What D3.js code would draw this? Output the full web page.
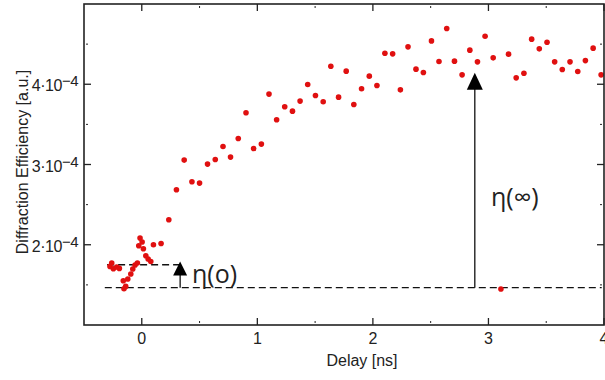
<!DOCTYPE html>
<html>
<head>
<meta charset="utf-8">
<script src="https://cdn.jsdelivr.net/npm/d3@7"></script>
<style>
  body { margin: 0; background: #fff; }
  text { font-family: "Liberation Sans", Arial, sans-serif; fill: #222; }
</style>
</head>
<body>
<svg id="chart" width="605" height="380"></svg>
<script>
// delay in ns, efficiency in units of 1e-4
const delay = [-0.275, -0.260, -0.246, -0.217, -0.194, -0.154, -0.139, -0.160, -0.121, -0.095,
  -0.078, -0.058, -0.038, -0.015, 0.003, -0.026, 0.014, 0.035, 0.055, 0.078,
  0.101, 0.167, 0.234, 0.300, 0.367, 0.434, 0.500, 0.569, 0.636, 0.703,
  0.768, 0.835, 0.902, 0.968, 1.035, 1.101, 1.167, 1.237, 1.304, 1.370,
  1.436, 1.503, 1.570, 1.636, 1.703, 1.769, 1.835, 1.902, 1.969, 2.035,
  2.104, 2.171, 2.238, 2.304, 2.373, 2.437, 2.507, 2.572, 2.639, 2.706,
  2.772, 2.839, 2.905, 2.971, 3.041, 3.108, 3.174, 3.240, 3.307, 3.374,
  3.440, 3.507, 3.573, 3.639, 3.706, 3.773, 3.839, 3.906, 3.975];
const efficiency = [1.730, 1.772, 1.701, 1.722, 1.705, 1.452, 1.481, 1.552, 1.573, 1.635,
  1.697, 1.747, 1.772, 2.083, 2.034, 1.988, 1.950, 1.863, 1.822, 1.792,
  2.000, 2.016, 2.311, 2.685, 3.055, 2.785, 2.768, 3.005, 3.062, 3.224,
  3.092, 3.324, 3.644, 3.199, 3.254, 3.877, 3.557, 3.719, 3.665, 3.790,
  3.996, 3.859, 3.781, 4.225, 3.839, 4.163, 3.747, 3.943, 4.101, 3.984,
  4.387, 4.379, 3.930, 4.466, 4.188, 4.146, 4.540, 4.283, 4.694, 4.288,
  4.117, 4.425, 4.279, 4.599, 4.329, 1.448, 4.375, 4.080, 4.138, 4.562,
  4.441, 4.524, 4.279, 4.183, 4.279, 4.158, 4.295, 4.450, 4.117];

const xTicks = [0, 1, 2, 3, 4];
const xMinor = [0.5, 1.5, 2.5, 3.5];
const yTicks = [2, 3, 4];
const yMinor = [1.5, 2.5, 3.5, 4.5];

// reference levels and arrows
const baseLevel = 1.465;   // η(0) baseline
const earlyLevel = 1.751;  // plateau before t0
const arrows = [
  { x: 0.332, from: baseLevel, to: 1.79, label: "η(o)" },
  { x: 2.882, from: baseLevel, to: 4.142, label: "η(∞)" }
];

const svg = d3.select('#chart');
const pLeft = 84, pRight = 604, pTop = 4, pBottom = 325;

let x = d3.scaleLinear().domain([-0.5, 4]).range([pLeft, pRight]);
let y = d3.scaleLinear().domain([1, 5]).range([pBottom, pTop]);

// dashed reference lines
svg.append('line')
    .attr('x1', x(-0.32)).attr('x2', x(3.98))
    .attr('y1', y(baseLevel)).attr('y2', y(baseLevel))
    .attr('stroke', '#111').attr('stroke-width', 1.3)
    .attr('stroke-dasharray', '7,4');
svg.append('line')
    .attr('x1', x(-0.3)).attr('x2', x(0.33))
    .attr('y1', y(earlyLevel)).attr('y2', y(earlyLevel))
    .attr('stroke', '#111').attr('stroke-width', 1.3)
    .attr('stroke-dasharray', '7,4');

// arrows
let arrowSizes = [{ w: 14, h: 14 }, { w: 16, h: 17 }];
arrows.forEach(function(a, i) {
    let ax = x(a.x), tip = y(a.to), s = arrowSizes[i];
    svg.append('line')
        .attr('x1', ax).attr('x2', ax)
        .attr('y1', y(a.from)).attr('y2', tip + s.h - 1)
        .attr('stroke', '#111').attr('stroke-width', 1.3);
    svg.append('path')
        .attr('d', `M${ax},${tip} L${ax - s.w / 2},${tip + s.h} L${ax + s.w / 2},${tip + s.h} Z`)
        .attr('fill', '#000');
});
svg.append('text').attr('x', 192).attr('y', 283)
    .style('font-size', '25px').style('font-family', '"Open Sans", sans-serif')
    .text(arrows[0].label);
svg.append('text').attr('x', 491).attr('y', 206)
    .style('font-size', '25px').style('font-family', '"Open Sans", sans-serif')
    .text(arrows[1].label);

// data points
svg.append('g').selectAll('circle')
    .data(delay)
    .enter()
    .append('circle')
        .attr('cx', d => x(d))
        .attr('cy', (d, i) => y(efficiency[i]))
        .attr('r', 2.8)
        .attr('fill', '#e01010');

// frame
svg.append('rect')
    .attr('x', pLeft).attr('y', pTop)
    .attr('width', pRight - pLeft).attr('height', pBottom - pTop)
    .attr('fill', 'none').attr('stroke', '#222').attr('stroke-width', 1.6);

// ticks, all pointing inward, mirrored on all four sides
let tickG = svg.append('g').attr('stroke', '#222');
xTicks.forEach(function(t) {
    tickG.append('line').attr('x1', x(t)).attr('x2', x(t)).attr('y1', pBottom).attr('y2', pBottom - 7).attr('stroke-width', 1.3);
    tickG.append('line').attr('x1', x(t)).attr('x2', x(t)).attr('y1', pTop).attr('y2', pTop + 7).attr('stroke-width', 1.3);
});
xMinor.forEach(function(t) {
    tickG.append('line').attr('x1', x(t)).attr('x2', x(t)).attr('y1', pBottom - 2).attr('y2', pBottom - 4).attr('stroke-width', 1);
    tickG.append('line').attr('x1', x(t)).attr('x2', x(t)).attr('y1', pTop + 2).attr('y2', pTop + 4).attr('stroke-width', 1);
});
yTicks.forEach(function(t) {
    tickG.append('line').attr('x1', pLeft).attr('x2', pLeft + 7).attr('y1', y(t)).attr('y2', y(t)).attr('stroke-width', 1.3);
    tickG.append('line').attr('x1', pRight).attr('x2', pRight - 7).attr('y1', y(t)).attr('y2', y(t)).attr('stroke-width', 1.3);
});
yMinor.forEach(function(t) {
    tickG.append('line').attr('x1', pLeft + 2).attr('x2', pLeft + 4).attr('y1', y(t)).attr('y2', y(t)).attr('stroke-width', 1);
    tickG.append('line').attr('x1', pRight - 2).attr('x2', pRight - 4).attr('y1', y(t)).attr('y2', y(t)).attr('stroke-width', 1);
});

// tick labels
svg.append('g').selectAll('text')
    .data(xTicks)
    .enter()
    .append('text')
        .attr('x', d => x(d))
        .attr('y', 344)
        .attr('text-anchor', 'middle')
        .style('font-size', '16px')
        .text(d => d);

yTicks.forEach(function(t) {
    let lbl = svg.append('text')
        .attr('x', 78)
        .attr('y', y(t) + 7)
        .attr('text-anchor', 'end')
        .style('font-size', '16px')
        .style('letter-spacing', '-0.5px');
    lbl.append('tspan').text(t + '·10');
    lbl.append('tspan').attr('dy', -5).style('font-size', '15px').text('−4');
});

// axis titles
svg.append('text')
    .attr('x', 362).attr('y', 366)
    .attr('text-anchor', 'middle')
    .style('font-size', '16px')
    .text('Delay [ns]');
svg.append('text')
    .attr('transform', 'translate(28,162) rotate(-90)')
    .attr('text-anchor', 'middle')
    .style('font-size', '16px')
    .text('Diffraction Efficiency [a.u.]');
</script>
</body>
</html>
